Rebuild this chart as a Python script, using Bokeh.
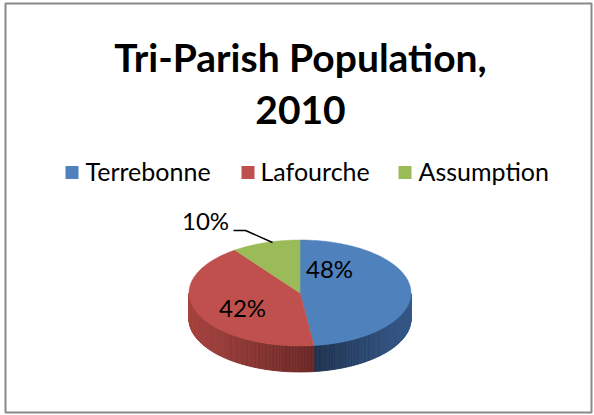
import numpy as np
from bokeh.plotting import figure
from bokeh.models import Range1d
from bokeh.core.properties import value
from bokeh.embed import file_html
from bokeh.resources import INLINE

# ---- data ----
title_lines = ["Tri-Parish Population,", "2010"]
names = ["Terrebonne", "Lafourche", "Assumption"]
values = [48, 42, 10]

# ---- style / layout ----
top_colors = ["#4F81BD", "#C0504D", "#9BBB59"]
side_stops = [("#1E3350", "#35598A"), ("#A6433F", "#6A2826"), ("#6E8740", "#55693A")]
W, H = 594, 415
CX, CY, RX, RY, DEPTH = 299.5, 292.5, 111.0, 53.0, 26.0
label_pos = [(329, 268), (242, 307), (205, 220)]
leader = ([233, 245, 272], [230, 230, 242])
legend_sq_x = [65, 241, 398]
legend_txt_x = [85, 260, 418]
legend_mid = 170
title_mid = [56, 109]
FONT = "Lato"

p = figure(width=W, height=H, x_range=Range1d(0, W), y_range=Range1d(H, 0),
           output_backend="svg", toolbar_location=None, min_border=0,
           x_axis_type=None, y_axis_type=None)
p.outline_line_color = None
p.background_fill_color = "white"
p.border_fill_color = "white"
p.grid.visible = False

# chart border
p.quad(left=[5], right=[591], top=[3], bottom=[412], fill_color=None,
       line_color="#888888", line_width=2)


def pt(theta_deg, dy=0.0):
    t = np.radians(theta_deg)
    return CX + RX * np.cos(t), CY - RY * np.sin(t) + dy


def hex2rgb(h):
    h = h.lstrip("#")
    return np.array([int(h[i:i + 2], 16) for i in (0, 2, 4)], dtype=float)


def rgb2hex(c):
    c = np.clip(np.round(c), 0, 255).astype(int)
    return "#%02x%02x%02x" % tuple(c)


total = float(sum(values))
cum = np.concatenate([[0.0], np.cumsum(values)]) / total
starts = 90 - 360 * cum[:-1]
ends = 90 - 360 * cum[1:]

# side walls (visible lower half)
for i in range(len(values)):
    angs = np.linspace(starts[i], ends[i], 200)
    segs = [(a, b) for a, b in zip(angs[:-1], angs[1:])
            if np.sin(np.radians((a + b) / 2)) < 0]
    if not segs:
        continue
    xs_all = [pt(a)[0] for s in segs for a in s]
    xmin, xmax = min(xs_all), max(xs_all)
    c0, c1 = hex2rgb(side_stops[i][0]), hex2rgb(side_stops[i][1])
    xs, ys, cols = [], [], []
    for a, b in segs:
        xa, ya = pt(a)
        xb, yb = pt(b)
        u = ((xa + xb) / 2 - xmin) / max(xmax - xmin, 1e-6)
        col = c0 + (c1 - c0) * u
        xs.append([xa, xb, xb, xa])
        ys.append([ya, yb, yb + DEPTH, ya + DEPTH])
        cols.append(rgb2hex(col))
    p.patches(xs, ys, fill_color=cols, line_color=cols, line_width=0.8)

# top faces
for i in range(len(values)):
    angs = np.linspace(starts[i], ends[i], 200)
    px = [CX] + [pt(a)[0] for a in angs]
    py = [CY] + [pt(a)[1] for a in angs]
    p.patch(px, py, fill_color=top_colors[i], line_color=top_colors[i], line_width=0.5)

# labels
for (lx, ly), v in zip(label_pos, values):
    p.text([lx], [ly], text=[f"{v}%"], text_font=value(FONT), text_font_size="24px",
           text_align="center", text_baseline="middle", text_color="black")
p.line(leader[0], leader[1], line_color="black", line_width=1.5)

# title
for line, ym in zip(title_lines, title_mid):
    p.text([W / 2 + 3], [ym], text=[line], text_font=value(FONT), text_font_size="39px",
           text_font_style="bold", text_align="center", text_baseline="middle",
           text_color="black")

# legend
for sx, tx, nm, c in zip(legend_sq_x, legend_txt_x, names, top_colors):
    p.rect([sx + 6.5], [legend_mid + 2], width=13, height=13, width_units="screen",
           height_units="screen", fill_color=c, line_color=None)
    p.text([tx], [legend_mid], text=[nm], text_font=value(FONT), text_font_size="25px",
           text_align="left", text_baseline="middle", text_color="black")

open("out.html", "w").write(file_html(p, INLINE))
